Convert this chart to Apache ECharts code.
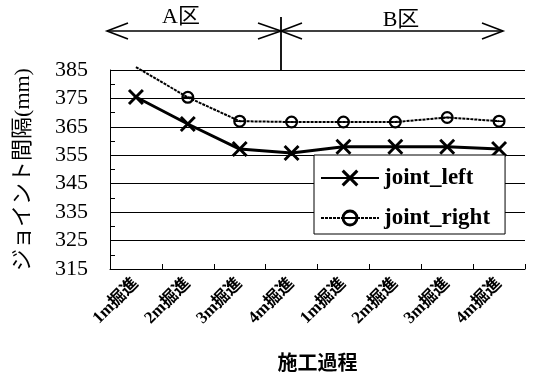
<!DOCTYPE html>
<html>
<head>
<meta charset="utf-8">
<script src="https://cdn.jsdelivr.net/npm/echarts@6/dist/echarts.min.js"></script>
<style>
  html, body { margin: 0; padding: 0; background: #fff; }
  #chart { width: 538px; height: 375px; }
</style>
</head>
<body>
<div id="chart"></div>
<script>
// Construction steps (A zone then B zone)
const categories = ['1m掘進', '2m掘進', '3m掘進', '4m掘進', '1m掘進', '2m掘進', '3m掘進', '4m掘進'];
// Joint spacing (mm)
const jointLeft = [375.5, 366, 357.2, 355.8, 358, 358, 358, 357.2];
const jointRight = [386, 375.4, 367, 366.7, 366.7, 366.7, 368.3, 367];
const yTicks = { min: 315, max: 385, interval: 10 };
const zoneLabels = ['A区', 'B区'];

const SERIF = '"Liberation Serif", "Noto Sans CJK JP", serif';

// Filled X shape used as the marker of the left joint
const crossSymbol = 'path://M0,1.3 L1.3,0 L5,3.7 L8.7,0 L10,1.3 L6.3,5 L10,8.7 L8.7,10 L5,6.3 L1.3,10 L0,8.7 L3.7,5 Z';
// Ring with a horizontal bar, used for the right joint
const ringSymbol = 'path://M5,0 A5,5 0 1,1 5,10 A5,5 0 1,1 5,0 Z M5,1.7 A3.3,3.3 0 1,0 5,8.3 A3.3,3.3 0 1,0 5,1.7 Z M1.7,4.4 L8.3,4.4 L8.3,5.6 L1.7,5.6 Z';

// The first right value rises above the axis range; its marker is not shown
const rightData = jointRight.map((v, i) => (v > yTicks.max ? { value: v, symbol: 'none' } : v));

const chart = echarts.init(document.getElementById('chart'), null, { renderer: 'canvas' });

const arrowStyle = { stroke: '#000', lineWidth: 1.6, fill: null };

chart.setOption({
  backgroundColor: '#fff',
  animation: false,
  grid: { left: 110, right: 13, top: 70, bottom: 106, containLabel: false, outerBoundsMode: 'none' },
  xAxis: {
    type: 'category',
    data: categories,
    boundaryGap: true,
    name: '施工過程',
    nameLocation: 'middle',
    nameGap: 86,
    nameTextStyle: { fontFamily: SERIF, fontSize: 20, color: '#000', fontWeight: 'bold' },
    axisLine: { show: true, lineStyle: { color: '#000', width: 1 } },
    axisTick: { show: true, inside: true, length: 5, lineStyle: { color: '#000' } },
    axisLabel: {
      rotate: 45,
      margin: 12,
      fontFamily: SERIF,
      fontSize: 17,
      fontWeight: 'bold',
      color: '#000'
    },
    splitLine: { show: false }
  },
  yAxis: {
    type: 'value',
    min: yTicks.min,
    max: yTicks.max,
    interval: yTicks.interval,
    name: 'ジョイント間隔(mm)',
    nameLocation: 'middle',
    nameRotate: 90,
    nameGap: 76,
    nameTextStyle: { fontFamily: SERIF, fontSize: 22, color: '#000' },
    axisLine: { show: true, lineStyle: { color: '#000', width: 1 } },
    axisTick: { show: true, inside: true, length: 5, lineStyle: { color: '#000' } },
    minorTick: { show: true, splitNumber: 2, length: 5, lineStyle: { color: '#000' } },
    axisLabel: { margin: 22, fontFamily: SERIF, fontSize: 22, color: '#000' },
    splitLine: { show: true, lineStyle: { color: '#000', width: 1 } }
  },
  legend: {
    orient: 'vertical',
    left: 314,
    top: 155,
    padding: [7, 15, 0, 6],
    itemGap: 8,
    itemWidth: 58,
    itemHeight: 21,
    backgroundColor: '#fff',
    borderColor: '#000',
    borderWidth: 1,
    textStyle: { fontFamily: SERIF, fontSize: 23, fontWeight: 'bold', color: '#000', lineHeight: 32 },
    data: ['joint_left', 'joint_right']
  },
  series: [
    {
      name: 'joint_left',
      type: 'line',
      data: jointLeft,
      symbol: crossSymbol,
      symbolSize: 16,
      lineStyle: { color: '#000', width: 3 },
      itemStyle: { color: '#000' },
      z: 3
    },
    {
      name: 'joint_right',
      type: 'line',
      data: rightData,
      clip: false,
      symbol: ringSymbol,
      symbolSize: 13,
      lineStyle: { color: '#000', width: 2, type: [3, 1] },
      itemStyle: { color: '#000' },
      z: 2
    }
  ],
  graphic: [
    // zone arrows above the plot
    { type: 'line', shape: { x1: 107, y1: 31, x2: 503, y2: 31 }, style: arrowStyle },
    { type: 'polyline', shape: { points: [[128, 23], [107, 31], [128, 39]] }, style: arrowStyle },
    { type: 'polyline', shape: { points: [[258, 23], [281, 31], [258, 39]] }, style: arrowStyle },
    { type: 'polyline', shape: { points: [[302, 23], [281, 31], [302, 39]] }, style: arrowStyle },
    { type: 'polyline', shape: { points: [[482, 23], [503, 31], [482, 39]] }, style: arrowStyle },
    { type: 'line', shape: { x1: 281, y1: 17, x2: 281, y2: 70 }, style: { stroke: '#000', lineWidth: 1.8 } },
    {
      type: 'text', x: 181, y: 17,
      style: { text: zoneLabels[0], fontFamily: SERIF, fontSize: 22, fill: '#000', align: 'center', verticalAlign: 'middle' }
    },
    {
      type: 'text', x: 401, y: 20,
      style: { text: zoneLabels[1], fontFamily: SERIF, fontSize: 22, fill: '#000', align: 'center', verticalAlign: 'middle' }
    }
  ]
});
</script>
</body>
</html>
